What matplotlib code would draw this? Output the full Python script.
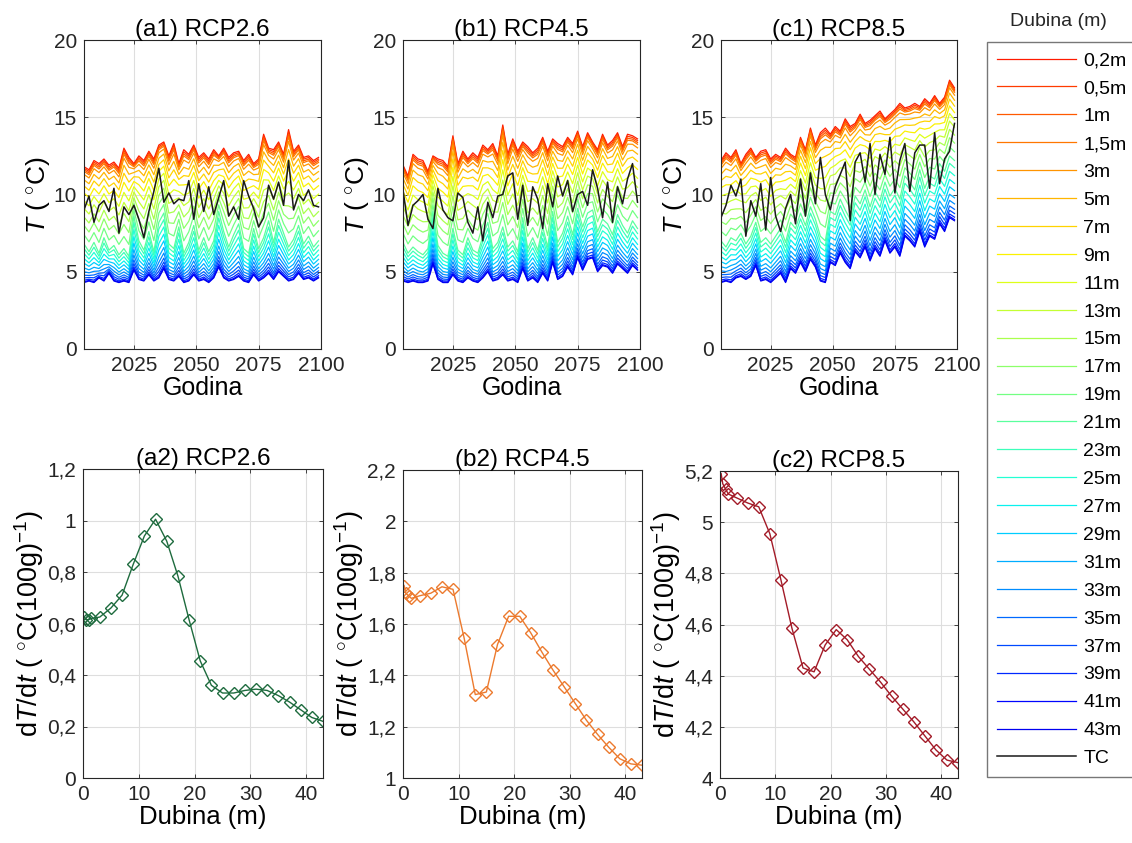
import numpy as np
import matplotlib
matplotlib.use("Agg")
import matplotlib.pyplot as plt
from matplotlib.ticker import FuncFormatter

plt.rcParams['font.family'] = ['Liberation Sans', 'DejaVu Sans']
plt.rcParams['mathtext.fontset'] = 'custom'
plt.rcParams['mathtext.rm'] = 'Liberation Sans'
plt.rcParams['mathtext.it'] = 'Liberation Sans:italic'
plt.rcParams['mathtext.bf'] = 'Liberation Sans:bold'

# godine (svaka druga)
years = np.arange(2005, 2101, 2)

depths = [0.2, 0.5, 1, 1.5, 3, 5, 7, 9, 11, 13, 15, 17, 19, 21, 23, 25, 27, 29, 31, 33, 35, 37, 39, 41, 43]
depth_labels = ['0,2m', '0,5m', '1m', '1,5m', '3m', '5m', '7m', '9m', '11m', '13m', '15m', '17m',
                '19m', '21m', '23m', '25m', '27m', '29m', '31m', '33m', '35m', '37m', '39m', '41m', '43m']
# polozaj krivulje u lepezi (0 = 0,2m, 1 = 21m, 2 = 43m), ocitano sa slike
fan_pos = [0.0, 0.02, 0.04, 0.06, 0.10, 0.17, 0.25, 0.34, 0.44, 0.54, 0.65, 0.76, 0.88, 1.0,
           1.12, 1.25, 1.38, 1.50, 1.62, 1.72, 1.81, 1.88, 1.94, 1.98, 2.0]

# RCP2.6
a_surf = [11.8, 11.6, 12.2, 12.0, 12.3, 11.9, 12.1, 11.7, 13.0, 12.4, 12.0, 12.5, 12.2, 12.8, 12.3, 13.2,
          13.4, 12.5, 13.3, 12.0, 12.9, 12.6, 13.2, 12.4, 12.7, 12.3, 12.9, 12.5, 13.0, 12.4, 12.7, 12.8,
          12.2, 12.6, 12.0, 12.3, 13.9, 13.0, 12.9, 13.4, 12.6, 14.2, 12.8, 13.2, 12.4, 12.5, 12.2, 12.4]
a_mid = [6.8, 6.3, 6.9, 6.2, 7.2, 6.4, 6.7, 6.1, 6.5, 6.0, 8.6, 7.0, 6.4, 7.6, 6.3, 8.2,
         8.8, 6.8, 6.5, 7.9, 6.2, 6.9, 8.0, 6.4, 7.2, 6.3, 7.0, 8.9, 7.6, 6.6, 7.4, 8.1,
         6.5, 6.2, 7.8, 6.5, 7.2, 8.3, 6.9, 8.4, 7.5, 6.6, 7.1, 8.0, 6.8, 7.3, 6.6, 7.0]
a_deep = [4.3, 4.4, 4.3, 4.6, 4.4, 4.9, 4.4, 4.3, 4.4, 4.3, 5.1, 4.5, 4.4, 4.8, 4.4, 4.6,
          5.2, 4.5, 4.4, 4.7, 4.3, 4.4, 4.8, 4.4, 4.5, 4.3, 4.6, 5.3, 4.6, 4.4, 4.5, 4.7,
          4.4, 4.3, 4.8, 4.4, 4.6, 4.9, 4.5, 5.0, 4.7, 4.4, 4.5, 4.9, 4.5, 4.6, 4.4, 4.6]
a_tc = [9.0, 9.9, 8.2, 9.3, 9.6, 8.9, 10.4, 7.5, 9.2, 8.7, 9.3, 8.4, 7.2, 8.9, 10.2, 11.7,
        9.5, 10.1, 9.4, 9.7, 9.6, 10.9, 8.4, 10.7, 8.9, 10.5, 8.7, 9.8, 10.9, 8.6, 9.2, 8.4,
        10.9, 9.9, 9.1, 7.9, 8.5, 10.6, 9.7, 10.8, 9.3, 12.2, 9.0, 10.0, 9.6, 10.3, 9.3, 9.2]

# RCP4.5
b_surf = [11.9, 11.2, 12.6, 12.3, 12.2, 11.5, 12.5, 12.3, 12.2, 11.8, 13.8, 12.0, 12.8, 12.3, 12.7, 12.4,
          13.2, 12.9, 13.3, 12.5, 14.5, 12.6, 13.6, 12.8, 13.4, 13.1, 12.7, 13.0, 13.7, 12.8, 13.6, 13.3,
          13.1, 13.7, 13.3, 14.1, 13.1, 14.0, 13.4, 12.9, 13.9, 13.2, 13.5, 14.0, 13.1, 13.9, 13.8, 13.6]
b_mid = [6.9, 6.2, 6.6, 6.3, 6.1, 6.5, 8.9, 6.7, 6.2, 6.0, 7.8, 6.4, 6.1, 7.2, 6.4, 6.2,
         7.3, 8.2, 6.5, 6.9, 7.9, 6.6, 7.0, 6.3, 8.5, 6.5, 7.2, 6.4, 7.9, 6.6, 8.9, 6.9,
         7.5, 8.6, 7.4, 9.1, 7.9, 8.8, 9.0, 7.6, 8.4, 8.1, 7.4, 8.7, 8.0, 7.5, 8.3, 7.8]
b_deep = [4.4, 4.3, 4.4, 4.3, 4.3, 4.4, 5.5, 4.5, 4.3, 4.3, 4.8, 4.4, 4.3, 4.6, 4.4, 4.3,
          4.6, 5.0, 4.4, 4.5, 4.8, 4.4, 4.5, 4.3, 5.2, 4.4, 4.6, 4.3, 4.9, 4.4, 5.6, 4.5,
          4.7, 5.3, 4.8, 5.9, 5.1, 5.8, 5.9, 5.0, 5.4, 5.3, 4.9, 5.5, 5.2, 4.9, 5.4, 5.1]
b_tc = [10.3, 8.0, 9.3, 9.6, 10.0, 8.4, 7.8, 10.4, 9.0, 8.5, 8.3, 10.1, 9.8, 8.2, 7.5, 9.2,
        7.0, 9.5, 8.5, 9.9, 10.0, 11.2, 11.4, 8.4, 10.6, 8.0, 10.5, 9.7, 7.8, 10.7, 9.2, 11.2,
        9.9, 10.9, 8.9, 10.0, 10.2, 9.3, 11.6, 10.4, 8.5, 10.8, 8.2, 10.5, 9.4, 11.0, 12.0, 9.5]

# RCP8.5
c_surf = [12.2, 12.7, 12.4, 12.9, 12.0, 12.6, 13.0, 12.4, 12.8, 12.9, 12.3, 12.6, 12.4, 13.0, 12.6, 12.4,
          13.7, 12.9, 14.3, 13.2, 14.0, 14.3, 13.9, 14.4, 14.1, 14.9, 14.4, 14.6, 15.2, 14.6, 14.8, 15.1,
          15.4, 14.9, 15.2, 15.5, 15.9, 15.6, 15.7, 15.9, 15.7, 16.2, 15.9, 16.4, 15.9, 16.3, 17.4, 16.9]
c_mid = [7.0, 6.6, 7.2, 7.0, 7.5, 6.8, 7.3, 8.2, 6.9, 7.2, 6.8, 7.3, 7.8, 6.9, 8.2, 7.8,
         8.8, 8.0, 9.2, 8.4, 7.3, 7.0, 8.9, 8.7, 9.7, 9.0, 8.4, 9.9, 9.4, 10.3, 9.2, 10.2,
         9.6, 10.8, 9.9, 10.4, 9.7, 11.2, 10.8, 10.3, 11.6, 10.4, 11.2, 11.0, 12.0, 11.5, 12.5, 12.2]
c_deep = [4.3, 4.4, 4.3, 4.6, 4.7, 4.5, 4.7, 5.4, 4.4, 4.5, 4.3, 4.6, 4.9, 4.3, 5.2, 4.9,
          5.6, 5.0, 5.8, 5.3, 4.4, 4.3, 5.6, 5.4, 6.2, 5.6, 5.2, 6.3, 5.9, 6.6, 5.7, 6.5,
          6.0, 7.0, 6.2, 6.6, 6.0, 7.3, 7.0, 6.6, 7.6, 6.6, 7.3, 7.1, 8.1, 7.6, 8.5, 8.3]
c_tc = [8.5, 9.3, 10.6, 9.9, 11.0, 7.3, 9.6, 8.6, 10.7, 7.7, 11.1, 8.6, 7.6, 9.1, 10.0, 8.1,
        11.0, 8.6, 11.4, 9.4, 12.4, 10.0, 9.0, 10.5, 11.3, 12.1, 8.3, 12.1, 12.7, 10.8, 13.3, 10.0,
        12.6, 11.3, 13.7, 10.1, 12.2, 13.3, 10.2, 12.7, 13.2, 13.2, 10.4, 14.0, 10.7, 12.3, 12.8, 14.6]

# trend dT/dt po dubini
trend_a = [0.625, 0.615, 0.615, 0.62, 0.625, 0.66, 0.71, 0.83, 0.94, 1.005, 0.92, 0.785, 0.615,
           0.455, 0.36, 0.33, 0.33, 0.34, 0.345, 0.34, 0.32, 0.295, 0.265, 0.235, 0.22]
trend_b = [1.75, 1.72, 1.71, 1.70, 1.71, 1.72, 1.745, 1.735, 1.545, 1.325, 1.335, 1.52, 1.63,
           1.63, 1.565, 1.49, 1.42, 1.355, 1.29, 1.225, 1.17, 1.12, 1.075, 1.055, 1.05]
trend_c = [5.19, 5.15, 5.13, 5.11, 5.095, 5.075, 5.06, 4.955, 4.775, 4.585, 4.43, 4.415, 4.52,
           4.58, 4.54, 4.475, 4.425, 4.375, 4.32, 4.27, 4.22, 4.165, 4.11, 4.07, 4.06]

top_titles = ['(a1) RCP2.6', '(b1) RCP4.5', '(c1) RCP8.5']
bot_titles = ['(a2) RCP2.6', '(b2) RCP4.5', '(c2) RCP8.5']
top_data = [(a_surf, a_mid, a_deep, a_tc), (b_surf, b_mid, b_deep, b_tc), (c_surf, c_mid, c_deep, c_tc)]
trends = [trend_a, trend_b, trend_c]
trend_colors = ['#1e6b3e', '#ec7a2e', '#a31b28']
trend_ylims = [(0, 1.2), (1, 2.2), (4, 5.2)]

W, H = 1132, 843
fig = plt.figure(figsize=(W / 100, H / 100), dpi=100)

top_boxes = [(84, 40, 321, 349), (403, 40, 640, 349), (721, 40, 957, 349)]
bot_boxes = [(83, 469, 323, 778), (403, 470, 642, 778), (720, 471, 958, 778)]

def add_ax(b):
    x0, y0, x1, y1 = b
    return fig.add_axes([x0 / W, 1 - y1 / H, (x1 - x0) / W, (y1 - y0) / H])

def style(ax):
    for s in ax.spines.values():
        s.set_color('#262626')
        s.set_linewidth(0.8)
    ax.tick_params(direction='in', length=3, width=0.6, labelsize=15, colors='#262626',
                   top=True, right=True, pad=5)
    ax.grid(True, color='#dedede', linewidth=0.8)
    ax.set_axisbelow(True)

cmap = plt.get_cmap('jet')
line_colors = [cmap(v) for v in np.linspace(0.88, 0.1, len(depths))]

handles = []
for k in range(3):
    ax = add_ax(top_boxes[k])
    style(ax)
    surf, mid, deep, tc = [np.array(s) for s in top_data[k]]
    for i, d in enumerate(depths):
        p = fan_pos[i]
        if p <= 1:
            y = surf + (mid - surf) * p
        else:
            y = mid + (deep - mid) * (p - 1)
        h, = ax.plot(years, y, color=line_colors[i], lw=0.9, label=depth_labels[i])
        if k == 0:
            handles.append(h)
    h, = ax.plot(years, tc, color='#1a1a1a', lw=1.1, label='TC')
    if k == 0:
        handles.append(h)
    ax.set_xlim(2005, 2100)
    ax.set_ylim(0, 20)
    ax.set_xticks([2025, 2050, 2075, 2100])
    ax.set_yticks([0, 5, 10, 15, 20])
    ax.set_title(top_titles[k], fontsize=17.5, pad=3)
    ax.set_xlabel('Godina', fontsize=18, labelpad=1)
    ax.set_ylabel(r'$T$ ( $^{\circ}$C)', fontsize=19, labelpad=1)

comma = FuncFormatter(lambda v, p: f'{v:g}'.replace('.', ','))
for k in range(3):
    ax = add_ax(bot_boxes[k])
    style(ax)
    ax.plot(depths, trends[k], color=trend_colors[k], lw=1.0, marker='D', ms=6,
            mfc='none', mec=trend_colors[k], mew=1.0)
    ax.set_xlim(0, 43)
    ax.set_ylim(*trend_ylims[k])
    lo, hi = trend_ylims[k]
    ax.set_yticks(np.round(np.arange(lo, hi + 0.01, 0.2), 1))
    ax.set_xticks([0, 10, 20, 30, 40])
    ax.yaxis.set_major_formatter(comma)
    ax.set_title(bot_titles[k], fontsize=17.5, pad=3)
    ax.set_xlabel('Dubina (m)', fontsize=18.5, labelpad=1)
    ax.set_ylabel(r'd$T$/d$t$ ( $^{\circ}$C(100g)$^{-1}$)', fontsize=19.5, labelpad=1)

leg = fig.legend(handles=handles, loc='upper left', bbox_to_anchor=(987 / W, 1 - 42 / H),
                 fontsize=14, handlelength=4.1, handletextpad=0.35, labelspacing=0.53,
                 borderpad=0.5, fancybox=False, frameon=True, borderaxespad=0)
leg.get_frame().set_edgecolor('#555555')
leg.get_frame().set_linewidth(1.0)
fig.text(1058 / W, 1 - 22 / H, 'Dubina (m)', fontsize=14, ha='center', va='center', color='#262626')

fig.savefig('out.png', dpi=100)
